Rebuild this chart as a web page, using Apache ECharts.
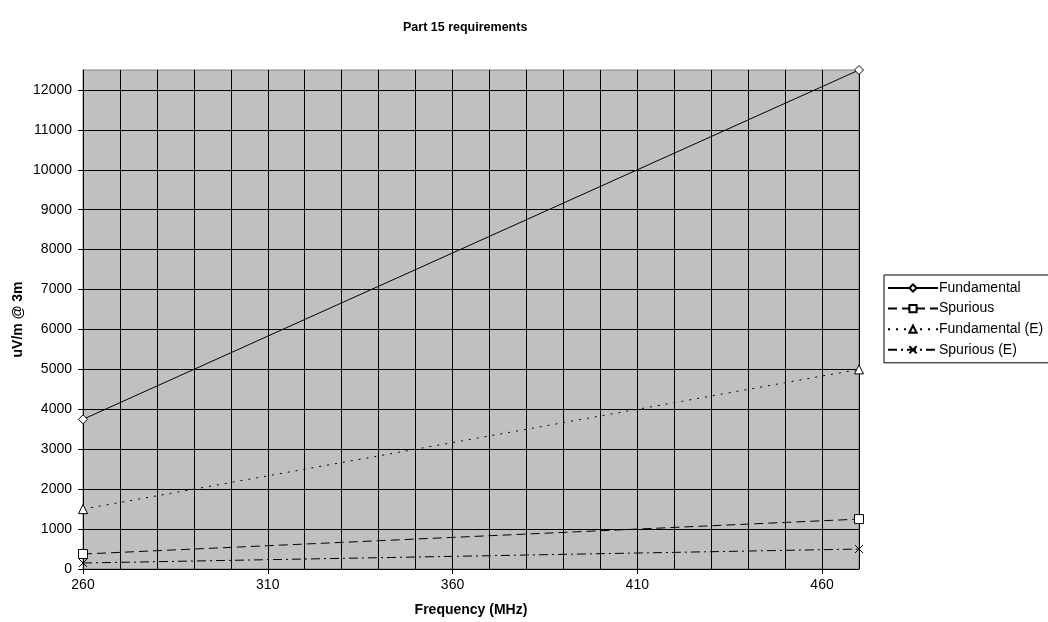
<!DOCTYPE html>
<html>
<head>
<meta charset="utf-8">
<script src="https://cdn.jsdelivr.net/npm/echarts@6/dist/echarts.min.js"></script>
<style>
html,body{margin:0;padding:0;background:#fff;}
#c{width:1048px;height:622px;}
</style>
</head>
<body>
<div id="c"></div>
<script>
var frequencies = [260, 470];
var fundamental = [3750, 12500];
var spurious = [375, 1250];
var fundamentalE = [1500, 5000];
var spuriousE = [150, 500];
var xTickLabels = [260, 310, 360, 410, 460];
var yTickLabels = [0,1000,2000,3000,4000,5000,6000,7000,8000,9000,10000,11000,12000];

function pts(vals){ return frequencies.map(function(f,i){ return [f, vals[i]]; }); }

var font = 'Liberation Sans, Arial, sans-serif';
var chart = echarts.init(document.getElementById('c'), null, {renderer:'canvas'});
var crossPath = 'path://M0,0L10,10M10,0L0,10';

function mkSeries(name, vals, symbol, dash, size){
  return {
    name: name, type: 'line', data: pts(vals),
    symbol: symbol, symbolSize: size, showAllSymbol: true,
    lineStyle: {color:'#000', width:1, type: dash},
    itemStyle: {color:'#fff', borderColor:'#000', borderWidth:1},
    emphasis: {disabled:true}, animation:false, z: 5
  };
}
function plain(v){ return String(v); }

chart.setOption({
  animation: false,
  backgroundColor: '#fff',
  title: {
    text: 'Part 15 requirements', left: 398, top: 16,
    textStyle: {fontFamily: font, fontSize: 12.5, fontWeight: 'bold', color: '#000'}
  },
  grid: {left: 83, right: 189, top: 70, bottom: 52, show: true, backgroundColor: '#c0c0c0', borderColor: '#808080', borderWidth: 1},
  legend: {
    orient: 'vertical', left: 884, top: 275,
    padding: [5, 40, 5, 3], itemGap: 4.6, itemWidth: 50, itemHeight: 9,
    borderColor: '#000', borderWidth: 1, backgroundColor: '#fff',
    textStyle: {fontFamily: font, fontSize: 14, color: '#000', padding:[0,0,0,-4], lineHeight: 16},
    data: ['Fundamental','Spurious','Fundamental (E)','Spurious (E)']
  },
  xAxis: [{
    type: 'value', min: 260, max: 470, interval: 10,
    name: 'Frequency (MHz)', nameLocation: 'middle', nameGap: 34, nameMoveOverlap: false,
    nameTextStyle: {fontFamily: font, fontSize: 14, fontWeight: 'bold', color: '#000'},
    axisLine: {show: true, onZero: false, lineStyle: {color: '#000', width: 1}},
    axisTick: {show: true, length: 5, customValues: xTickLabels, lineStyle: {color:'#000'}},
    axisLabel: {customValues: xTickLabels, formatter: plain, margin: 9, fontFamily: font, fontSize: 14, color: '#000'},
    splitLine: {show: false}
  }, {
    type: 'value', min: 260, max: 470, interval: 10, position: 'bottom',
    axisLine: {show: false}, axisTick: {show: false}, axisLabel: {show: false},
    splitLine: {show: true, lineStyle: {color: '#000', width: 1}}
  }],
  yAxis: {
    type: 'value', min: 0, max: 12500, interval: 1000,
    name: 'uV/m @ 3m', nameLocation: 'middle', nameGap: 58, nameRotate: 90, nameMoveOverlap: false,
    nameTextStyle: {fontFamily: font, fontSize: 14, fontWeight: 'bold', color: '#000'},
    axisLine: {show: true, lineStyle: {color: '#000', width: 1}},
    axisTick: {show: true, length: 5, customValues: yTickLabels, lineStyle: {color:'#000'}},
    axisLabel: {customValues: yTickLabels, formatter: plain, margin: 11, fontFamily: font, fontSize: 14, color: '#000'},
    splitLine: {show: true, lineStyle: {color: '#000', width: 1}}
  },
  series: [
    mkSeries('Fundamental', fundamental, 'diamond', 'solid', 9),
    mkSeries('Spurious', spurious, 'rect', [9,5], 9),
    mkSeries('Fundamental (E)', fundamentalE, 'triangle', [2,6], 9),
    mkSeries('Spurious (E)', spuriousE, crossPath, [9,4,2,4], 8)
  ]
});
</script>
</body>
</html>
